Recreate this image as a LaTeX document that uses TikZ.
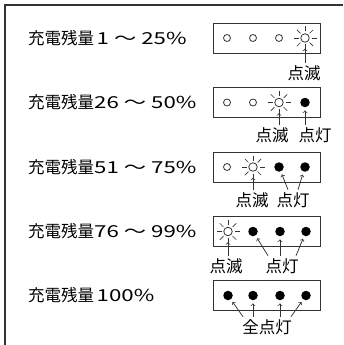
\documentclass[tikz,border=0pt]{standalone}
\usepackage{fontspec}
\setmainfont{Noto Sans CJK JP}
\newfontfamily\numfont[FakeStretch=1.35]{Noto Sans CJK JP}
\usetikzlibrary{positioning,calc}
\definecolor{linegray}{HTML}{333333}

\tikzset{
	frame/.style={draw=linegray, line width=1.3pt},
	panel/.style={draw=linegray, line width=0.9pt, minimum width=107pt, minimum height=30pt, inner sep=0pt},
	ledoff/.style={draw=linegray, circle, line width=0.8pt, minimum size=7pt, inner sep=0pt},
	ledon/.style={fill=black, circle, minimum size=9.5pt, inner sep=0pt},
	ledblink/.style={draw=linegray, circle, line width=0.8pt, minimum size=8.5pt, inner sep=0pt},
	level/.style={anchor=west, inner sep=0pt, font=\fontsize{16.5}{16.5}\selectfont},
	tag/.style={inner sep=2.5pt, font=\fontsize{16.5}{16.5}\selectfont},
	pointer/.style={->, draw=linegray, line width=0.75pt},
	toblink/.style={pointer, shorten >=6pt},
	toon/.style={pointer, shorten >=3pt}
}
\newcommand{\sunrays}[1]{\foreach \a in {0,45,...,315} \draw[linegray, line width=0.7pt] (#1.center) ++(\a:6.5pt) -- ++(\a:5pt);}

\begin{document}
\begin{tikzpicture}[x=1pt, y=-1pt]
	\useasboundingbox (0,0) rectangle (344,345);
	\draw[frame] (5,345) -- (5,5) -- (343,5);

	% 1 - 25%
	\node[level] (t1) at (28,38) {充電残量{\numfont\hspace{2.5pt}1 ～ 25\%}};
	\node[panel] (p1) at (266.5,38) {};
	\node[ledoff] (d11) at (227,38) {};
	\node[ledoff] (d12) at (253,38) {};
	\node[ledoff] (d13) at (279,38) {};
	\node[ledblink] (d14) at (305,38) {}; \sunrays{d14}
	\node[tag] (blink1) at (304,73) {点滅};
	\draw[toblink] (blink1.north -| d14) -- (d14);

	% 26 - 50%
	\node[level] (t2) at (28,102.5) {充電残量{\numfont 26 ～ 50\%}};
	\node[panel] (p2) at (266.5,102.5) {};
	\node[ledoff] (d21) at (227,102.5) {};
	\node[ledoff] (d22) at (253,102.5) {};
	\node[ledblink] (d23) at (279,102.5) {}; \sunrays{d23}
	\node[ledon] (d24) at (305,102.5) {};
	\node[tag] (blink2) at (272,135) {点滅};
	\node[tag] (lit2) at (315,135) {点灯};
	\draw[toblink] (blink2.north -| d23) -- (d23);
	\draw[toon] (lit2.north -| d24) -- (d24);

	% 51 - 75%
	\node[level] (t3) at (28,167) {充電残量{\numfont 51 ～ 75\%}};
	\node[panel] (p3) at (266.5,167) {};
	\node[ledoff] (d31) at (227,167) {};
	\node[ledblink] (d32) at (253,167) {}; \sunrays{d32}
	\node[ledon] (d33) at (279,167) {};
	\node[ledon] (d34) at (305,167) {};
	\node[tag] (blink3) at (252,200) {点滅};
	\node[tag] (lit3) at (293,200) {点灯};
	\draw[toblink] (blink3.north -| d32) -- (d32);
	\draw[toon] ([xshift=-5pt]lit3.north) -- (d33);
	\draw[toon] ([xshift=5pt]lit3.north) -- (d34);

	% 76 - 99%
	\node[level] (t4) at (28,231.5) {充電残量{\numfont 76 ～ 99\%}};
	\node[panel] (p4) at (266.5,231.5) {};
	\node[ledblink] (d41) at (228,231.5) {}; \sunrays{d41}
	\node[ledon] (d42) at (253,231.5) {};
	\node[ledon] (d43) at (280,231.5) {};
	\node[ledon] (d44) at (306,231.5) {};
	\node[tag] (blink4) at (226,266) {点滅};
	\node[tag] (lit4) at (282,266) {点灯};
	\draw[toblink] (blink4.north -| d41) -- (d41);
	\draw[toon] ([xshift=-14pt]lit4.north) -- (d42);
	\draw[toon] (lit4.north -| d43) -- (d43);
	\draw[toon] ([xshift=14pt]lit4.north) -- (d44);

	% 100%
	\node[level] (t5) at (28,295.5) {充電残量{\numfont\hspace{2.5pt}100\%}};
	\node[panel] (p5) at (266.5,295.5) {};
	\node[ledon] (d51) at (228,295.5) {};
	\node[ledon] (d52) at (253,295.5) {};
	\node[ledon] (d53) at (280,295.5) {};
	\node[ledon] (d54) at (306,295.5) {};
	\node[tag] (all5) at (267,327) {全点灯};
	\draw[toon] ([xshift=-24pt]all5.north) -- (d51);
	\draw[toon] (all5.north -| d52) -- (d52);
	\draw[toon] (all5.north -| d53) -- (d53);
	\draw[toon] ([xshift=24pt]all5.north) -- (d54);
\end{tikzpicture}
\end{document}
